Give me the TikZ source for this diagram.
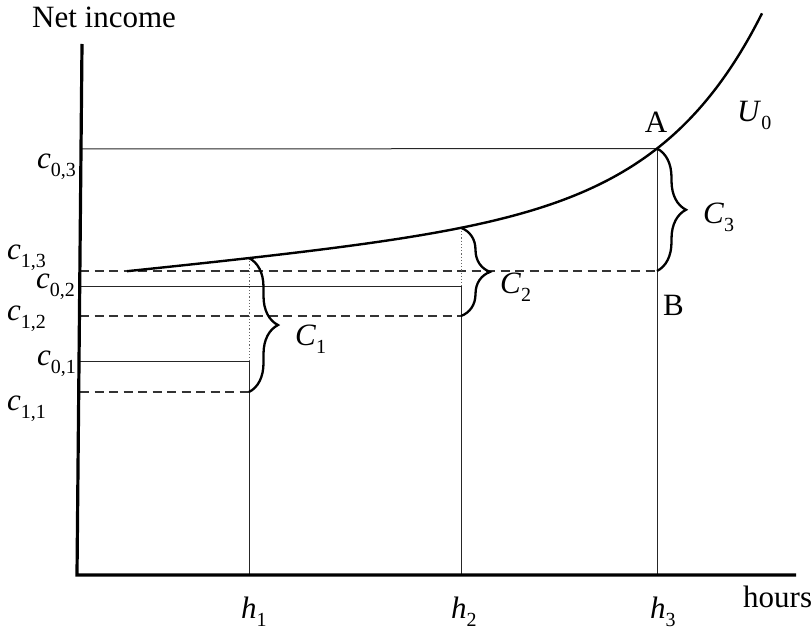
\documentclass[tikz,border=0pt]{standalone}
\usepackage{fontspec}
\setmainfont{Liberation Serif}
\usetikzlibrary{decorations.pathreplacing}
\newcommand{\symlab}[2]{\textit{#1}\raisebox{-8pt}{\fontsize{20}{20}\selectfont #2}}
\begin{document}
\begin{tikzpicture}[x=1pt,y=-1pt,
  declare function={ucurve(\t)=271.6-0.1*(\t-127)-0.402*exp((\t-127)/102.7);},
  axisline/.style={line width=3.2pt, line cap=butt},
  thinline/.style={line width=1pt, draw=black!85},
  dashline/.style={line width=1.1pt, draw=black!80, dash pattern=on 9pt off 5.5pt},
  dotline/.style={line width=1pt, draw=black!60, dash pattern=on 1.2pt off 2pt},
  curveline/.style={line width=2.4pt},
  bracestyle/.style={line width=2.3pt, decorate, decoration={brace, amplitude=29pt}},
  lab/.style={inner sep=0pt, anchor=base west, font=\fontsize{31}{36}\selectfont},
  clab/.style={inner sep=0pt, anchor=base, font=\fontsize{31}{36}\selectfont}]
\useasboundingbox (0,0) rectangle (811,631);
% key points
\coordinate (O) at (77,575);
\coordinate (Ytop) at (82,44);
\coordinate (Xend) at (796,575);
\coordinate (Y03) at (80,149);
\coordinate (Y13) at (80,271);
\coordinate (Y02) at (80,286);
\coordinate (Y12) at (80,316);
\coordinate (Y01) at (80,361);
\coordinate (Y11) at (80,392);
\coordinate (P1) at (249,{ucurve(249)});
\coordinate (P2) at (461,{ucurve(461)});
\coordinate (A) at (657,{ucurve(657)});
\coordinate (H1) at (249,575);
\coordinate (H2) at (461,575);
\coordinate (H3) at (657,575);
\coordinate (Q01) at (249,361);
\coordinate (Q11) at (249,392);
\coordinate (Q02) at (461,286);
\coordinate (Q12) at (461,316);
\coordinate (Q13) at (657,271);
% horizontal guide lines
\draw[thinline] (Y03) -- (A);
\draw[dashline] (Y13) -- (Q13);
\draw[thinline] (Y02) -- (Q02);
\draw[dashline] (Y12) -- (Q12);
\draw[thinline] (Y01) -- (Q01);
\draw[dashline] (Y11) -- (Q11);
% vertical guide lines
\draw[dotline] (P1) -- (Q01);
\draw[thinline] (Q01) -- (H1);
\draw[dotline] (P2) -- (Q02);
\draw[thinline] (Q02) -- (H2);
\draw[thinline] (A) -- (H3);
% axes
\draw[axisline] (Ytop) -- (O) -- (Xend);
% indifference curve
\draw[curveline] plot[domain=127:762, samples=140, smooth] (\x, {ucurve(\x)});
% braces
\draw[bracestyle] (P1) -- (Q11);
\draw[bracestyle] (P2) -- (Q12);
\draw[bracestyle] (A) -- (Q13);
% labels
\node[lab] (tNet) at (32,28) {Net income};
\node[lab] (tHours) at (743,607) {hours};
\node[lab] (c03) at (37,169) {\symlab{c}{0,3}};
\node[lab] (c13) at (7,259) {\symlab{c}{1,3}};
\node[lab] (c02) at (36,288) {\symlab{c}{0,2}};
\node[lab] (c12) at (7,320) {\symlab{c}{1,2}};
\node[lab] (c01) at (37,365) {\symlab{c}{0,1}};
\node[lab] (c11) at (7,410) {\symlab{c}{1,1}};
\node[lab] (C1) at (295,345) {\symlab{C}{1}};
\node[lab] (C2) at (500,293) {\symlab{C}{2}};
\node[lab] (C3) at (703,223) {\symlab{C}{3}};
\node[lab] (U0) at (737,122) {\symlab{U}{0}};
\node[clab] (tA) at (656,133) {A};
\node[lab] (tB) at (663,315) {B};
\node[lab] (h1) at (241,618) {\symlab{h}{1}};
\node[lab] (h2) at (451,618) {\symlab{h}{2}};
\node[lab] (h3) at (650,618) {\symlab{h}{3}};
\end{tikzpicture}
\end{document}
